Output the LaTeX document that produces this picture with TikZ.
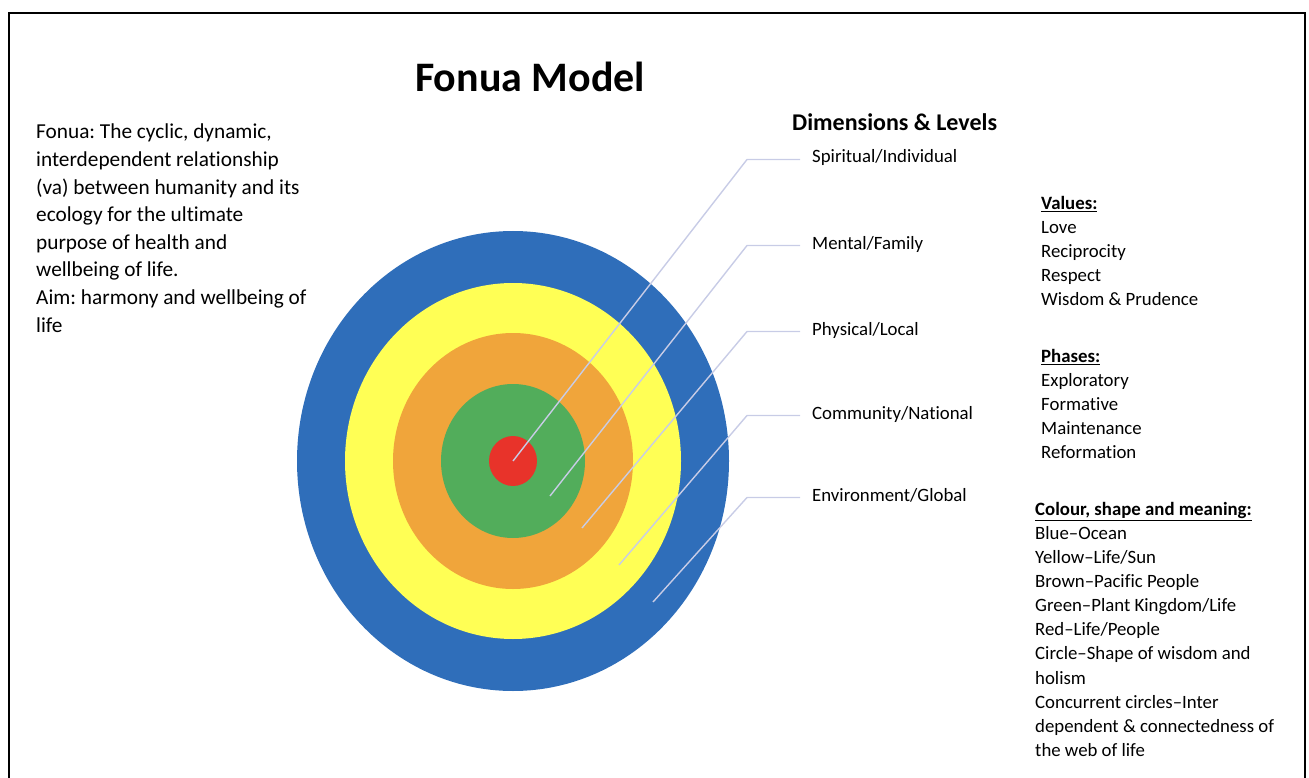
\documentclass[tikz,border=0pt]{standalone}
\usepackage{fontspec}
\setmainfont{Carlito}[Ligatures={TeX,NoCommon}]
\usepackage{tikz}
\usetikzlibrary{shapes.geometric}
\frenchspacing

\definecolor{ocean}{HTML}{2F6EBA}
\definecolor{sun}{HTML}{FFFF55}
\definecolor{people}{HTML}{F0A53B}
\definecolor{plant}{HTML}{52AD5B}
\definecolor{core}{HTML}{E8332A}
\definecolor{leadline}{HTML}{C8CCE6}

\begin{document}
\begin{tikzpicture}[
  x=1pt, y=-1pt,
  ring/.style={ellipse, inner sep=0pt, draw=none},
  lead/.style={leadline, line width=1.4pt},
  level/.style={anchor=base west, inner sep=0pt, inner xsep=12pt,
                text height=0.9em, text depth=0.2em,
                font=\fontsize{18.8}{24}\selectfont},
  list/.style={anchor=north west, inner sep=0pt, align=left,
               font=\fontsize{18.8}{24.1}\selectfont}
]
  \useasboundingbox (0,0) rectangle (1309,778);
  \draw[line width=2pt] (9,778) -- (9,13) -- (1305,13) -- (1305,778);

  % titles and the definition on the left
  \node[anchor=base west, inner sep=0pt, font=\fontsize{42}{50}\selectfont\bfseries]
    (title) at (415,92) {Fonua Model};
  \node[anchor=base west, inner sep=0pt, font=\fontsize{24}{29}\selectfont\bfseries]
    (dimhead) at (792,131) {Dimensions \& Levels};
  \node[anchor=north west, inner sep=0pt, align=left, font=\fontsize{21.3}{27.6}\selectfont]
    (defn) at (36,124) {Fonua: The cyclic, dynamic,\\ interdependent relationship\\
      (va) between humanity and its\\ ecology for the ultimate\\ purpose of health and\\
      wellbeing of life.\\ Aim: harmony and wellbeing of\\ life};

  % concentric rings, outside in
  \node[ring, fill=ocean,  minimum width=432pt, minimum height=460pt] (blue)   at (513,461) {};
  \node[ring, fill=sun,    minimum width=336pt, minimum height=356pt] (yellow) at (513,461) {};
  \node[ring, fill=people, minimum width=240pt, minimum height=256pt] (orange) at (513,461) {};
  \node[ring, fill=plant,  minimum width=144pt, minimum height=154pt] (green)  at (513,461) {};
  \node[ring, fill=core,   minimum width=48pt,  minimum height=50pt]  (red)    at (513,461) {};

  % level labels
  \node[level] (spirit)  at (800,163) {Spiritual/Individual};
  \node[level] (mental)  at (800,249) {Mental/Family};
  \node[level] (phys)    at (800,335) {Physical/Local};
  \node[level] (commun)  at (800,419) {Community/National};
  \node[level] (environ) at (800,501) {Environment/Global};

  \coordinate (p2) at (550,496);
  \coordinate (p3) at (582,528);
  \coordinate (p4) at (619,565);
  \coordinate (p5) at (653,602);
  \coordinate (kx) at (747,0);

  \draw[lead] (red.center) -- (spirit.west -| kx) -- (spirit.west);
  \draw[lead] (p2) -- (mental.west -| kx) -- (mental.west);
  \draw[lead] (p3) -- (phys.west -| kx) -- (phys.west);
  \draw[lead] (p4) -- (commun.west -| kx) -- (commun.west);
  \draw[lead] (p5) -- (environ.west -| kx) -- (environ.west);

  % lists on the right
  \node[list] (values) at (1041,196) {\textbf{\underline{Values:}}\\ Love\\ Reciprocity\\
    Respect\\ Wisdom \& Prudence};
  \node[list] (phases) at (1041,349) {\textbf{\underline{Phases:}}\\ Exploratory\\ Formative\\
    Maintenance\\ Reformation};
  \node[list] (meaning) at (1035,502) {\textbf{\underline{Colour, shape and meaning:}}\\
    Blue–Ocean\\ Yellow–Life/Sun\\ Brown–Pacific People\\ Green–Plant Kingdom/Life\\
    Red–Life/People\\ Circle–Shape of wisdom and\\ holism\\ Concurrent circles–Inter\\
    dependent \& connectedness of\\ the web of life};
\end{tikzpicture}
\end{document}
